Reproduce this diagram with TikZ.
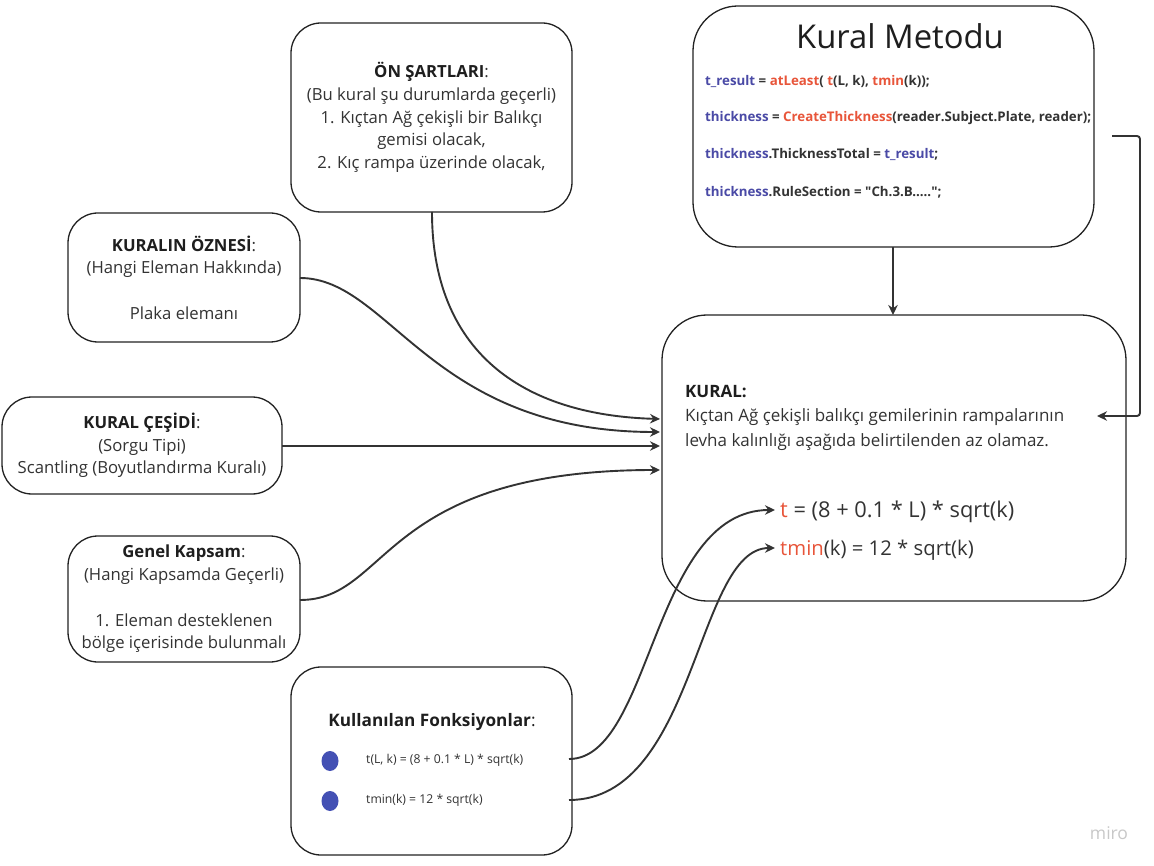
\documentclass[tikz,border=0pt]{standalone}
\usepackage{fontspec}
\setmainfont{Open Sans}
\newfontfamily\rawfont{Open Sans}
\usetikzlibrary{arrows.meta,shapes.geometric}
\definecolor{ink}{HTML}{333333}
\definecolor{hdr}{HTML}{1E1E1E}
\definecolor{codeblue}{HTML}{4A4AA6}
\definecolor{codered}{HTML}{E8553A}
\definecolor{dotblue}{HTML}{4350B4}
\definecolor{edge}{HTML}{222222}
\definecolor{wm}{HTML}{C8C8C8}
\newcommand{\cblu}[1]{\textcolor{codeblue}{#1}}
\newcommand{\cred}[1]{\textcolor{codered}{#1}}
\tikzset{
  box/.style={draw=edge, line width=1.3pt, rounded corners=30pt, fill=white, text=ink, align=center, inner sep=0pt},
  bigbox/.style={box, rounded corners=45pt},
  txt/.style={font=\fontsize{16.7}{22.7}\selectfont},
  code/.style={anchor=west, inner sep=0pt, font=\rawfont\fontsize{13.3}{15}\selectfont\bfseries, text=ink},
  link/.style={draw=ink, line width=1.9pt, -{Stealth[length=10pt,width=9.5pt]}},
}
\begin{document}
\begin{tikzpicture}[x=1pt,y=-1pt]
\useasboundingbox (0,0) rectangle (1154,866);
\fill[white] (0,0) rectangle (1154,866);

% boxes
\node[box, txt, minimum width=281pt, minimum height=189pt] (on) at (431.5,117.5)
  {\textcolor{hdr}{\bfseries ÖN ŞARTLARI}:\\(Bu kural şu durumlarda geçerli)\\1. Kıçtan Ağ çekişli bir Balıkçı\\gemisi olacak,\\2. Kıç rampa üzerinde olacak,};
\node[box, txt, minimum width=232pt, minimum height=129pt] (ozne) at (184,277.5)
  {\textcolor{hdr}{\bfseries KURALIN ÖZNESİ}:\\(Hangi Eleman Hakkında)\\[22.7pt]Plaka elemanı};
\node[box, txt, minimum width=280pt, minimum height=97pt] (cesit) at (142,445.5)
  {\textcolor{hdr}{\bfseries KURAL ÇEŞİDİ}:\\(Sorgu Tipi)\\Scantling (Boyutlandırma Kuralı)};
\node[box, txt, minimum width=232pt, minimum height=126pt] (kapsam) at (184,599)
  {\textcolor{hdr}{\bfseries Genel Kapsam}:\\(Hangi Kapsamda Geçerli)\\[22.7pt]1. Eleman desteklenen\\bölge içerisinde bulunmalı};
\node[box, minimum width=281pt, minimum height=188pt] (fonk) at (431.5,761) {};
\node[bigbox, minimum width=401pt, minimum height=241pt] (metod) at (893.5,126.5) {};
\node[bigbox, minimum width=464pt, minimum height=286pt] (kural) at (894,458) {};

% Kullanilan Fonksiyonlar content
\node[inner sep=0pt, font=\fontsize{17.2}{20}\selectfont\bfseries, text=hdr] (fonkt) at (432,722) {Kullanılan Fonksiyonlar\textmd{:}};
\node[ellipse, fill=dotblue, minimum width=17pt, minimum height=20pt, inner sep=0pt] (d1) at (330,761) {};
\node[ellipse, fill=dotblue, minimum width=17pt, minimum height=20pt, inner sep=0pt] (d2) at (330,801) {};
\node[anchor=west, inner sep=0pt, font=\fontsize{12.2}{14}\selectfont, text=ink] (f1) at (366,760) {t(L, k) = (8 + 0.1 * L) * sqrt(k)};
\node[anchor=west, inner sep=0pt, font=\fontsize{12.2}{14}\selectfont, text=ink] (f2) at (366,800) {tmin(k) = 12 * sqrt(k)};

% Kural Metodu content
\node[inner sep=0pt, font=\fontsize{32.8}{36}\selectfont, text=hdr] (mtitle) at (900,36) {Kural Metodu};
\node[code] (c1) at (705,82) {\cblu{t\_result} = \cred{atLeast}( \cred{t}(L, k), \cred{tmin}(k));};
\node[code] (c2) at (705,118) {\cblu{thickness} = \cred{CreateThickness}(reader.Subject.Plate, reader);};
\node[code] (c3) at (705,155) {\cblu{thickness}.ThicknessTotal = \cblu{t\_result};};
\node[code] (c4) at (705,192) {\cblu{thickness}.RuleSection = "Ch.3.B.....";};

% KURAL content
\node[anchor=north west, inner sep=0pt, align=left, font=\fontsize{17}{24.5}\selectfont, text=ink] (kt) at (685,385)
  {\textcolor{hdr}{\bfseries KURAL:}\\Kıçtan Ağ çekişli balıkçı gemilerinin rampalarının\\levha kalınlığı aşağıda belirtilenden az olamaz.};
\node[anchor=west, inner sep=0pt, font=\fontsize{21.8}{24}\selectfont, text=ink] (eq1) at (780,512) {\cred{t} = (8 + 0.1 * L) * sqrt(k)};
\node[anchor=west, inner sep=0pt, font=\fontsize{20.3}{24}\selectfont, text=ink] (eq2) at (780,550) {\cred{tmin}(k) = 12 * sqrt(k)};

% anchor coordinates
\coordinate (a1) at (660,419);
\coordinate (a2) at (660,432);
\coordinate (a3) at (660,446);
\coordinate (a4) at (660,470);
\coordinate (s1) at (432,212);
\coordinate (s2) at (300,278);
\coordinate (s3) at (282,446);
\coordinate (s4) at (300,600);
\coordinate (m1) at (893,247);
\coordinate (m2) at (893,315);
\coordinate (r1) at (1112,136);
\coordinate (r2) at (1140,136);
\coordinate (r3) at (1140,416);
\coordinate (r4) at (1097,416);
\coordinate (g1) at (569,759);
\coordinate (g2) at (569,800);
\coordinate (e1) at (775,510);
\coordinate (e2) at (775,548);

% connectors
\draw[link] (s1) .. controls (432,350) and (520,415) .. (a1);
\draw[link] (s2) .. controls (390,278) and (430,432) .. (a2);
\draw[link] (s3) -- (a3);
\draw[link] (s4) .. controls (390,600) and (380,470) .. (a4);
\draw[link] (m1) -- (m2);
\draw[link, rounded corners=3pt] (r1) -- (r2) -- (r3) -- (r4);
\draw[link] (g1) .. controls (652,759) and (652,510) .. (e1);
\draw[link] (g2) .. controls (696,800) and (696,548) .. (e2);

% watermark
\node[inner sep=0pt, font=\fontsize{17.5}{20}\selectfont, text=wm] (miro) at (1109,833) {miro};
\end{tikzpicture}
\end{document}
